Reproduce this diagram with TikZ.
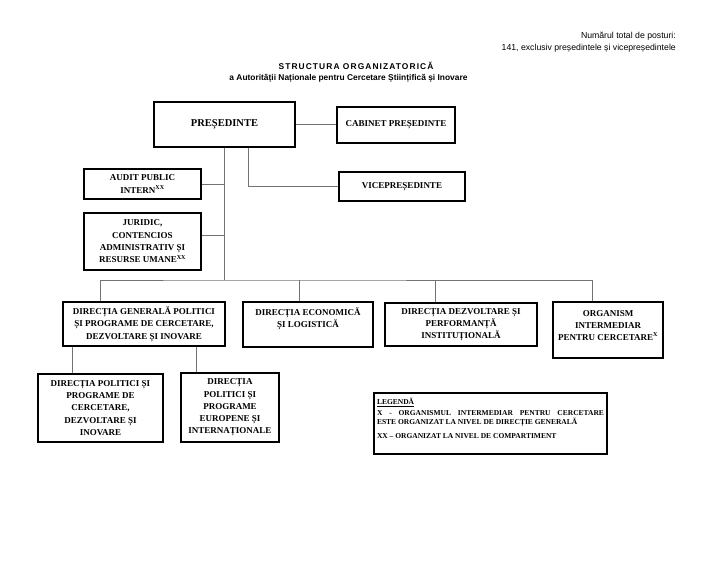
\documentclass[tikz,border=0pt]{standalone}
\usepackage{fontspec}
\setmainfont{Liberation Serif}
\newfontfamily\arialfont{Liberation Sans}
\newfontfamily\arialrar[LetterSpace=13]{Liberation Sans}
\begin{document}
\begin{tikzpicture}[
      x=1pt, y=-1pt,
      linie/.style={draw=black!55, line width=0.5pt},
      caseta/.style={rectangle, draw=black, line width=1.1pt,
        inner sep=1pt, align=center,
        font=\bfseries\fontsize{9}{12.3}\selectfont},
      legenda/.style={rectangle, draw=black, line width=1.1pt,
        inner sep=2pt, font=\bfseries\fontsize{7.5}{8.5}\selectfont}
    ]
    \useasboundingbox (0,0) rectangle (728,562);
    \path (676,42.5) node(numar) [anchor=east, align=right, inner sep=0pt,
        font=\arialfont\fontsize{8.7}{12}\selectfont]
      {Numărul total de posturi:\\141, exclusiv președintele și vicepreședintele}
    (356,66) node(titlu) [font=\arialrar\bfseries\fontsize{8.4}{9}\selectfont]
      {STRUCTURA ORGANIZATORICĂ}
    (348.5,78) node(subtitlu) [font=\arialfont\bfseries\fontsize{8.4}{9}\selectfont]
      {a Autorității Naționale pentru Cercetare Științifică și Inovare};
    \path (224.5,124.5) node(pres) [caseta, minimum width=141pt, minimum height=45pt,
        font=\bfseries\fontsize{10.5}{12}\selectfont] {PREȘEDINTE}
    (396,125) node(cab) [caseta, minimum width=118pt, minimum height=36pt]
      {CABINET PREȘEDINTE}
    (402,186.5) node(vice) [caseta, minimum width=126pt, minimum height=29pt]
      {VICEPREȘEDINTE}
    (142.5,184) node(audit) [caseta, minimum width=117pt, minimum height=30pt]
      {AUDIT PUBLIC\\INTERN\textsuperscript{XX}}
    (142.5,241.5) node(jur) [caseta, minimum width=117pt, minimum height=57pt]
      {JURIDIC,\\CONTENCIOS\\ADMINISTRATIV ȘI\\RESURSE UMANE\textsuperscript{XX}}
    (144,324) node(dg) [caseta, minimum width=162pt, minimum height=44pt]
      {DIRECȚIA GENERALĂ POLITICI\\ȘI PROGRAME DE CERCETARE,\\DEZVOLTARE ȘI INOVARE}
    (308,324.5) node(econ) [caseta, minimum width=130pt, minimum height=45pt]
      {\parbox[c][43pt][t]{128pt}{\centering\vspace*{4pt}\strut DIRECȚIA ECONOMICĂ\\ȘI LOGISTICĂ}}
    (461,324.5) node(dezv) [caseta, minimum width=152pt, minimum height=43pt]
      {DIRECȚIA DEZVOLTARE ȘI\\PERFORMANȚĂ\\INSTITUȚIONALĂ}
    (608,330) node(org) [caseta, minimum width=110pt, minimum height=56pt]
      {\parbox[c][54pt][t]{108pt}{\centering\vspace*{4.5pt}\strut ORGANISM\\INTERMEDIAR\\PENTRU CERCETARE\textsuperscript{X}}}
    (100.5,408) node(pol1) [caseta, minimum width=125pt, minimum height=68pt]
      {DIRECȚIA POLITICI ȘI\\PROGRAME DE\\CERCETARE,\\DEZVOLTARE ȘI\\INOVARE}
    (230,407.5) node(pol2) [caseta, minimum width=98pt, minimum height=69pt]
      {DIRECȚIA\\POLITICI ȘI\\PROGRAME\\EUROPENE ȘI\\INTERNAȚIONALE}
    (490.5,423.5) node(leg) [legenda, minimum width=233pt, minimum height=61pt]
      {\parbox[c][57pt][t]{227pt}{\vspace*{3pt}\strut\underline{LEGENDĂ}\par\vspace{2.5pt}
        X - ORGANISMUL INTERMEDIAR PENTRU CERCETARE\linebreak
        ESTE ORGANIZAT LA NIVEL DE DIRECȚIE GENERALĂ\par\vspace{5.5pt}
        XX – ORGANIZAT LA NIVEL DE COMPARTIMENT}};
    \coordinate (bus) at (224.5,280);
    \draw[linie] (pres.east) -- (pres.east -| cab.west);
    \draw[linie] ([xshift=23.5pt]pres.south) |- (vice.west);
    \draw[linie] (pres.south) -- (bus);
    \draw[linie] (audit.east) -- (audit.east -| bus);
    \draw[linie] ([yshift=6pt]jur.east) -- ([yshift=6pt]jur.east -| bus);
    \draw[linie] ([xshift=-44pt]dg.north) |- (bus) -| ([xshift=-16pt]org.north);
    \draw[linie] ([xshift=-9pt]econ.north) -- ([xshift=-9pt]econ.north |- bus);
    \draw[linie] ([xshift=-26pt]dezv.north) -- ([xshift=-26pt]dezv.north |- bus);
    \draw[linie] ([xshift=-28.5pt]pol1.north) -- ([xshift=-28.5pt]pol1.north |- dg.south);
    \draw[linie] ([xshift=-34pt]pol2.north) -- ([xshift=-34pt]pol2.north |- dg.south);
  \end{tikzpicture}
\end{document}
